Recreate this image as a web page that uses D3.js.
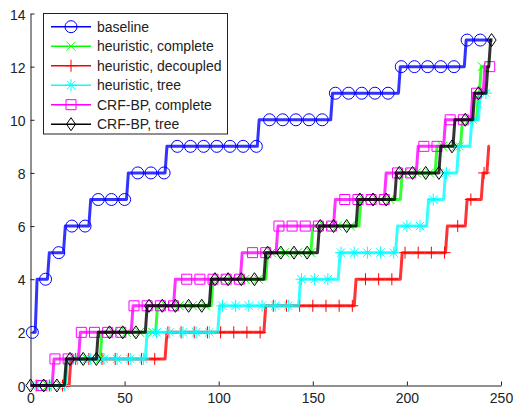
<!DOCTYPE html>
<html>
<head>
<meta charset="utf-8">
<script src="https://cdn.jsdelivr.net/npm/d3@7"></script>
<style>
  body { margin: 0; background: #fff; }
  svg { display: block; font-family: "Liberation Sans", Arial, sans-serif; }
</style>
</head>
<body>
<div id="chart"></div>
<script>
// step data: x where each level starts, last entry = end of the line
const baselineX = [1, 3.5, 10, 18.5, 32, 52, 72.5, 121.5, 160.5, 196.5, 231.5, 245];
const baselineY = [2, 4, 5, 6, 7, 8, 9, 10, 11, 12, 13, 13];

const heurCompleteX = [0, 19.5, 38, 67.5, 97, 126, 150, 175.5, 197.5, 216, 229.5, 238, 239.5, 241];
const heurCompleteY = [0, 1, 2, 3, 4, 5, 6, 7, 8, 9, 10, 11, 12, 12];

const heurDecoupledX = [0, 21.5, 72.5, 125, 173, 197.5, 221.5, 232, 240.5, 243.5, 244];
const heurDecoupledY = [0, 1, 2, 3, 4, 5, 6, 7, 8, 9, 9];

const heurTreeX = [0, 19.5, 62, 100.5, 143.5, 164.5, 195, 211.5, 220.5, 227.5, 234.5, 239, 243];
const heurTreeY = [0, 1, 2, 3, 4, 5, 6, 7, 8, 9, 10, 11, 11];

const crfCompleteX = [0, 12.5, 26.5, 54.5, 77, 112.5, 131.5, 162, 189, 206, 220.5, 235, 241.5, 244];
const crfCompleteY = [0, 1, 2, 3, 4, 5, 6, 7, 8, 9, 10, 11, 12, 12];

const crfTreeX = [0, 19, 36, 62, 96, 125, 153.5, 174, 194.5, 218, 225.5, 236, 243, 244.5, 245.5];
const crfTreeY = [0, 1, 2, 3, 4, 5, 6, 7, 8, 9, 10, 11, 12, 13, 13];

const seriesNames = ["baseline", "heuristic, complete", "heuristic, decoupled",
  "heuristic, tree", "CRF-BP, complete", "CRF-BP, tree"];
const seriesColors = ["#0000ff", "#00ff00", "#ff0000", "#00ffff", "#ff00ff", "#000000"];
const seriesMarkers = ["circle", "x", "plus", "star", "square", "diamond"];
const markerOffsets = [1, 2, 3, 4, 6, 0];
const markerEvery = 7;

const xTicks = [0, 50, 100, 150, 200, 250];
const yTicks = [0, 2, 4, 6, 8, 10, 12, 14];

const series = [
  [baselineX, baselineY], [heurCompleteX, heurCompleteY], [heurDecoupledX, heurDecoupledY],
  [heurTreeX, heurTreeY], [crfCompleteX, crfCompleteY], [crfTreeX, crfTreeY]
].map(([xs, ys], i) => ({
  name: seriesNames[i], color: seriesColors[i], marker: seriesMarkers[i],
  offset: markerOffsets[i], xs, ys
}));

const width = 514, height = 405;

const x = d3.scaleLinear().domain([0, 250]).range([30.5, 501]);
const y = d3.scaleLinear().domain([0, 14]).range([385.5, 13.5]);

const svg = d3.select("#chart").append("svg")
  .attr("width", width)
  .attr("height", height);

// turn step data into polyline points (short slanted rise)
function stepPoints(xs, ys) {
  const pts = [[xs[0], ys[0]]];
  for (let i = 1; i < xs.length; i++) {
    if (ys[i] !== ys[i - 1]) {
      pts.push([xs[i] - 1, ys[i - 1]]);
    }
    pts.push([xs[i], ys[i]]);
  }
  return pts;
}

function valueAt(pts, xv) {
  for (let i = 1; i < pts.length; i++) {
    const [x0, y0] = pts[i - 1], [x1, y1] = pts[i];
    if (xv <= x1) {
      if (x1 === x0) return y1;
      return y0 + (y1 - y0) * (xv - x0) / (x1 - x0);
    }
  }
  return pts[pts.length - 1][1];
}

function markerPath(type) {
  switch (type) {
    case "circle": return "M6,0A6,6 0 1,1 -6,0A6,6 0 1,1 6,0Z";
    case "square": return "M-5,-5H5V5H-5Z";
    case "diamond": return "M0,-6.5L4.5,0L0,6.5L-4.5,0Z";
    case "plus": return "M-6,0H6M0,-6V6";
    case "x": return "M-4.5,-4.5L4.5,4.5M-4.5,4.5L4.5,-4.5";
    case "star": return "M-6,0H6M0,-6V6M-4.2,-4.2L4.2,4.2M-4.2,4.2L4.2,-4.2";
  }
}

// axes
const yAxis = d3.axisLeft(y).tickValues(yTicks).tickSizeInner(-4).tickSizeOuter(0).tickPadding(5);
const xAxis = d3.axisBottom(x).tickValues(xTicks).tickSizeInner(-4).tickSizeOuter(0).tickPadding(8);

svg.append("g")
  .attr("transform", `translate(${x(0)},0)`)
  .call(yAxis)
  .call(g => g.selectAll("text").attr("font-size", 14).attr("font-family", null).attr("fill", "#222").attr("dy", "0.4em"));

svg.append("g")
  .attr("transform", `translate(0,${y(0)})`)
  .call(xAxis)
  .call(g => g.selectAll("text").attr("font-size", 14).attr("font-family", null).attr("fill", "#222"));

svg.selectAll(".domain, .tick line").attr("stroke", "#222");

const line = d3.line().x(d => x(d[0])).y(d => y(d[1]));

series.forEach(s => {
  const pts = stepPoints(s.xs, s.ys);
  const g = svg.append("g");
  g.append("path")
    .attr("d", line(pts))
    .attr("fill", "none")
    .attr("stroke", s.color)
    .attr("stroke-opacity", 0.8)
    .attr("stroke-width", 3)
    .attr("stroke-linejoin", "round");

  const endX = s.xs[s.xs.length - 1];
  const mx = d3.range(s.offset, endX + 0.01, markerEvery).filter(v => v >= s.xs[0]);
  g.selectAll("path.m")
    .data(mx)
    .join("path")
    .attr("class", "m")
    .attr("transform", d => `translate(${x(d)},${y(valueAt(pts, d))})`)
    .attr("d", markerPath(s.marker))
    .attr("fill", "none")
    .attr("stroke", s.color)
    .attr("stroke-width", 1);
});

// legend
const legend = svg.append("g");
legend.append("rect")
  .attr("x", 43.5).attr("y", 13.5)
  .attr("width", 184).attr("height", 120.5)
  .attr("fill", "#fff")
  .attr("stroke", "#222");

const rowY = d3.scaleLinear().domain([0, 5]).range([26.7, 124.2]);

series.forEach((s, i) => {
  const cy = rowY(i);
  legend.append("line")
    .attr("x1", 51).attr("x2", 91)
    .attr("y1", cy).attr("y2", cy)
    .attr("stroke", s.color)
    .attr("stroke-width", 1.5);
  legend.append("path")
    .attr("transform", `translate(71,${cy})`)
    .attr("d", markerPath(s.marker))
    .attr("fill", "none")
    .attr("stroke", s.color)
    .attr("stroke-width", 1);
  legend.append("text")
    .attr("x", 97).attr("y", cy + 5)
    .attr("font-size", 14)
    .attr("fill", "#222")
    .text(s.name);
});
</script>
</body>
</html>
